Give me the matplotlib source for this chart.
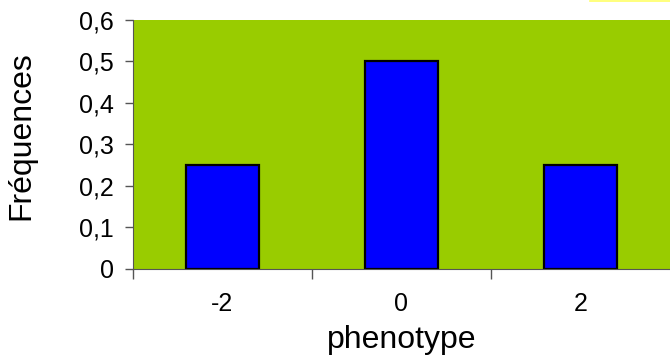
import numpy as np
from matplotlib import pyplot as plt
from matplotlib.lines import Line2D

phenotype = ["-2", "0", "2"]
frequences = [0.25, 0.5, 0.25]
yticks = [0, 0.1, 0.2, 0.3, 0.4, 0.5, 0.6]
ytick_labels = ["0", "0,1", "0,2", "0,3", "0,4", "0,5", "0,6"]

plt.rcParams['font.family'] = ['Liberation Sans', 'DejaVu Sans']

fig = plt.figure(figsize=(6.7, 3.64), dpi=100)
ax = fig.add_axes([0.1985, 0.262, 0.8015, 0.683])
ax.set_facecolor('#99CC00')

x = np.arange(len(phenotype))
ax.bar(x, frequences, width=0.405, color='#0000FF', edgecolor='black', linewidth=1.6)

ax.set_xlim(-0.5, len(phenotype) - 0.5)
ax.set_ylim(0, 0.6)
ax.set_xticks(x)
ax.set_xticklabels(phenotype, fontsize=18)
ax.set_xticks(np.arange(-0.5, len(phenotype) - 0.5), minor=True)
ax.tick_params(axis='x', which='major', length=0, pad=17)
ax.tick_params(axis='x', which='minor', length=7, color='#555555', width=1, direction='out')
ax.set_yticks(yticks)
ax.set_yticklabels(ytick_labels, fontsize=18)
ax.tick_params(axis='y', length=6, color='#555555', width=1, pad=8)

for s in ['top', 'right']:
    ax.spines[s].set_visible(False)
ax.spines['left'].set_color('#555555')
ax.spines['bottom'].set_color('#555555')

ax.set_xlabel('phenotype', fontsize=23, labelpad=6)
ax.set_ylabel('Fréquences', fontsize=23)
ax.yaxis.set_label_coords(-0.179, 0.533)

# bord du cadre de légende coupé en haut à droite
fig.add_artist(Line2D([0.881, 1.0], [0.998, 0.998], color='#FFFF66', linewidth=1.2,
                      transform=fig.transFigure))

fig.savefig('out.png', dpi=100)
